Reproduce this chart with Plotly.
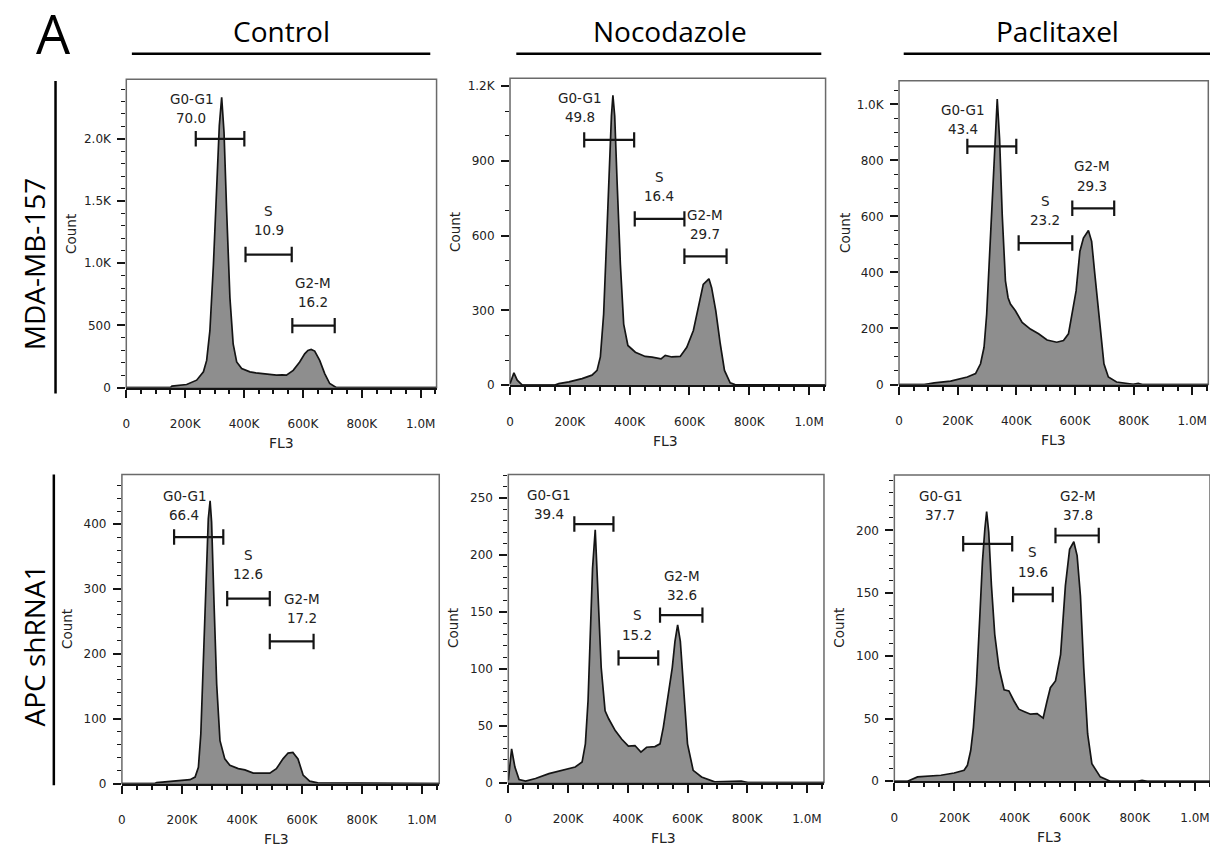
import plotly.graph_objects as go

W, H = 1210, 855

# ---------------- data: FL3 (in thousands) and Count ----------------
mda_control_fl3 = [0, 150, 155, 205, 239, 262, 273, 284, 296, 307, 316, 324, 332, 341, 352, 363, 375, 392,
                   420, 440, 465, 490, 510, 530, 544, 567, 589, 606, 617, 628, 640, 657, 674, 691, 713, 1054]
mda_control_count = [0, 0, 11, 24, 59, 126, 218, 457, 989, 1654, 2106, 2333, 2053, 1414, 723, 351, 205, 152,
                     126, 118, 112, 104, 99, 101, 99, 138, 205, 271, 298, 306, 293, 218, 112, 32, 0, 0]

mda_noco_fl3 = [0, 13, 24, 41, 150, 163, 197, 241, 274, 291, 302, 313, 324, 332, 339, 344, 350, 358, 369, 380,
                394, 419, 452, 475, 491, 505, 519, 541, 569, 591, 613, 630, 646, 658, 665, 674, 688, 703, 717,
                736, 752, 1055]
mda_noco_count = [6, 49, 20, 0, 0, 6, 13, 26, 40, 59, 113, 285, 616, 882, 1080, 1163, 1080, 815, 484, 245,
                  159, 132, 115, 112, 108, 105, 119, 113, 115, 152, 219, 311, 404, 418, 427, 391, 298, 165, 59,
                  9, 2, 0]

mda_pac_fl3 = [0, 86, 120, 176, 233, 261, 278, 290, 299, 307, 318, 327, 335, 343, 352, 363, 372, 380, 397, 420,
               448, 476, 505, 538, 561, 578, 589, 604, 617, 629, 646, 657, 668, 686, 699, 714, 742, 799, 816,
               830, 1055]
mda_pac_count = [0, 0, 6, 12, 27, 39, 74, 133, 251, 429, 665, 877, 1019, 877, 606, 370, 310, 287, 263, 222,
                 198, 181, 159, 151, 157, 181, 240, 334, 476, 523, 550, 511, 393, 193, 74, 27, 9, 1, 4,
                 0, 0]

apc_control_fl3 = [0, 110, 116, 172, 227, 244, 255, 263, 271, 280, 288, 294, 299, 307, 316, 327, 343, 360, 388,
                   410, 438, 471, 493, 515, 537, 554, 570, 587, 604, 626, 653, 1058]
apc_control_count = [0, 0, 1.5, 3.6, 6, 10, 25, 76, 178, 306, 408, 436, 403, 280, 153, 66, 38, 28, 23,
                     21, 16, 16, 16, 23, 38, 47, 48, 38, 13, 3.6, 1, 0]

apc_noco_fl3 = [0, 11, 22, 36, 58, 91, 136, 180, 224, 247, 258, 267, 274, 282, 291, 300, 311, 324, 336, 358,
                380, 402, 424, 444, 463, 491, 508, 519, 536, 549, 558, 567, 576, 586, 600, 619, 647, 691, 747,
                780, 802, 1057]
apc_noco_count = [2, 29.6, 13.6, 2.6, 1.2, 3.5, 7.8, 10.7, 13.6, 18, 34, 72, 130, 188, 222, 173, 101, 63, 56, 45.6,
                  38, 32, 32.5, 26.7, 31, 31.6, 34, 48.5, 77.5, 101, 124, 138.5, 124, 86, 34, 10.7, 4.9, 0.6, 1.2,
                  1.2, 0, 0]

apc_pac_fl3 = [0, 44, 77, 111, 155, 199, 232, 243, 254, 263, 273, 284, 293, 301, 307, 314, 323, 334, 348, 365,
               381, 398, 414, 431, 453, 475, 495, 508, 519, 536, 553, 569, 583, 597, 608, 619, 630, 643, 657,
               685, 718, 807, 824, 841, 1050]
apc_pac_count = [0, 0, 3.5, 4.2, 4.8, 6.6, 8.7, 12.7, 24.5, 43, 77, 130, 175, 201, 215, 198.6, 156, 117, 90.5, 73,
                 72, 64, 57.5, 55.7, 53.5, 54, 50.4, 64, 74.6, 80, 101, 156, 185, 191, 180, 148, 90.5, 37.7, 14,
                 3.5, 0, 0, 0.8, 0, 0]

# ---------------- gates (G0-G1, S, G2-M) ----------------
gate_names = ["G0-G1", "S", "G2-M"]

mda_control_gate_start = [236, 405, 564]
mda_control_gate_end = [401, 562, 708]
mda_control_gate_level = [2000, 1069, 498]
mda_control_pct = ["70.0", "10.9", "16.2"]
mda_control_label_x = [220, 484, 634]
mda_control_label_y = [2242, 1342, 766]

mda_noco_gate_start = [248, 417, 583]
mda_noco_gate_end = [415, 583, 724]
mda_noco_gate_level = [984, 667, 517]
mda_noco_pct = ["49.8", "16.4", "29.7"]
mda_noco_label_x = [233, 499, 652]
mda_noco_label_y = [1113, 797, 645]

mda_pac_gate_start = [233, 408, 591]
mda_pac_gate_end = [400, 591, 734]
mda_pac_gate_level = [850, 505, 629]
mda_pac_pct = ["43.4", "23.2", "29.3"]
mda_pac_label_x = [218, 499, 659]
mda_pac_label_y = [945, 622, 745]

apc_control_gate_start = [174, 351, 493]
apc_control_gate_end = [338, 493, 639]
apc_control_gate_level = [380, 285, 219]
apc_control_pct = ["66.4", "12.6", "17.2"]
apc_control_label_x = [208, 421, 600]
apc_control_label_y = [429, 338, 270]

apc_noco_gate_start = [221, 369, 508]
apc_noco_gate_end = [352, 502, 650]
apc_noco_gate_level = [227, 109.5, 147]
apc_noco_pct = ["39.4", "15.2", "32.6"]
apc_noco_label_x = [136, 432, 580]
apc_noco_label_y = [244, 138.5, 173]

apc_pac_gate_start = [229, 395, 536]
apc_pac_gate_end = [392, 527, 680]
apc_pac_gate_level = [189.4, 149, 196]
apc_pac_pct = ["37.7", "19.6", "37.8"]
apc_pac_label_x = [152, 461, 611]
apc_pac_label_y = [220, 175, 220]

# ---------------- labels ----------------
treatments = ["Control", "Nocodazole", "Paclitaxel"]
cell_lines = ["MDA-MB-157", "APC shRNA1"]
x_tickvals = [0, 200, 400, 600, 800, 1000]
x_ticktext = ["0", "200K", "400K", "600K", "800K", "1.0M"]

y_tickvals = [
    [0, 500, 1000, 1500, 2000],
    [0, 300, 600, 900, 1200],
    [0, 200, 400, 600, 800, 1000],
    [0, 100, 200, 300, 400],
    [0, 50, 100, 150, 200, 250],
    [0, 50, 100, 150, 200],
]
y_ticktext = [
    ["0", "500", "1.0K", "1.5K", "2.0K"],
    ["0", "300", "600", "900", "1.2K"],
    ["0", "200", "400", "600", "800", "1.0K"],
    ["0", "100", "200", "300", "400"],
    ["0", "50", "100", "150", "200", "250"],
    ["0", "50", "100", "150", "200"],
]

# ---------------- layout (pixel boxes: left, right, top, zero-line) ----------------
panels = [
    dict(fl3=mda_control_fl3, cnt=mda_control_count, gs=mda_control_gate_start, ge=mda_control_gate_end,
         gy=mda_control_gate_level, pct=mda_control_pct, lx=mda_control_label_x, ly=mda_control_label_y,
         box=(122.7, 434.0, 80.0, 390.7), xmax=1054, ymax=2478, yminor=100),
    dict(fl3=mda_noco_fl3, cnt=mda_noco_count, gs=mda_noco_gate_start, ge=mda_noco_gate_end,
         gy=mda_noco_gate_level, pct=mda_noco_pct, lx=mda_noco_label_x, ly=mda_noco_label_y,
         box=(507.7, 824.3, 79.0, 388.3), xmax=1055, ymax=1231, yminor=100),
    dict(fl3=mda_pac_fl3, cnt=mda_pac_count, gs=mda_pac_gate_start, ge=mda_pac_gate_end,
         gy=mda_pac_gate_level, pct=mda_pac_pct, lx=mda_pac_label_x, ly=mda_pac_label_y,
         box=(898.0, 1208.3, 81.5, 387.7), xmax=1055, ymax=1084, yminor=50),
    dict(fl3=apc_control_fl3, cnt=apc_control_count, gs=apc_control_gate_start, ge=apc_control_gate_end,
         gy=apc_control_gate_level, pct=apc_control_pct, lx=apc_control_label_x, ly=apc_control_label_y,
         box=(118.3, 436.7, 478.3, 790.0), xmax=1058, ymax=476.6, yminor=20),
    dict(fl3=apc_noco_fl3, cnt=apc_noco_count, gs=apc_noco_gate_start, ge=apc_noco_gate_end,
         gy=apc_noco_gate_level, pct=apc_noco_pct, lx=apc_noco_label_x, ly=apc_noco_label_y,
         box=(506.0, 822.7, 478.3, 789.0), xmax=1057, ymax=270.6, yminor=10),
    dict(fl3=apc_pac_fl3, cnt=apc_pac_count, gs=apc_pac_gate_start, ge=apc_pac_gate_end,
         gy=apc_pac_gate_level, pct=apc_pac_pct, lx=apc_pac_label_x, ly=apc_pac_label_y,
         box=(893.3, 1210.0, 479.0, 787.7), xmax=1050, ymax=244.2, yminor=10),
]


def px(x):
    return x / W


def py(y):
    return 1 - y / H


SMALL_FONT = "DejaVu Sans, Arial, sans-serif"
BIG_FONT = "Open Sans, Noto Sans, sans-serif"
INK = "#141414"
TXT = "#222222"

fig = go.Figure()
annotations = []
shapes = []
layout_axes = {}

for i, p in enumerate(panels, start=1):
    sfx = "" if i == 1 else str(i)
    xa, ya = "x" + sfx, "y" + sfx
    L, R, T, B = p["box"]

    fig.add_trace(go.Scatter(
        x=p["fl3"], y=p["cnt"], mode="lines", fill="tozeroy",
        fillcolor="#8e8e8e", line=dict(color=INK, width=1.7),
        xaxis=xa, yaxis=ya, showlegend=False, hoverinfo="skip"))

    for k in range(3):
        fig.add_trace(go.Scatter(
            x=[p["gs"][k], p["ge"][k]], y=[p["gy"][k], p["gy"][k]],
            mode="lines+markers",
            line=dict(color=INK, width=2.2),
            marker=dict(symbol="line-ns", size=11, line=dict(color=INK, width=2.2)),
            xaxis=xa, yaxis=ya, showlegend=False, hoverinfo="skip"))
        annotations.append(dict(
            x=p["lx"][k], y=p["ly"][k], xref=xa, yref=ya, text=gate_names[k],
            showarrow=False, xanchor="center", yanchor="middle", yshift=9.7,
            font=dict(family=SMALL_FONT, size=13.5, color=TXT)))
        annotations.append(dict(
            x=p["lx"][k], y=p["ly"][k], xref=xa, yref=ya, text=p["pct"][k],
            showarrow=False, xanchor="center", yanchor="middle", yshift=-9.7,
            font=dict(family=SMALL_FONT, size=13.5, color=TXT)))

    layout_axes["xaxis" + sfx] = dict(
        domain=[px(L), px(R)], range=[0, p["xmax"]], anchor=ya,
        tickvals=x_tickvals, ticktext=x_ticktext,
        ticks="outside", ticklen=8, tickwidth=2, tickcolor=INK,
        showline=True, linecolor=INK, linewidth=2,
        showgrid=False, zeroline=False, ticklabelstandoff=16,
        ticklabeloverflow="allow",
        tickfont=dict(family=SMALL_FONT, size=12, color=TXT),
        minor=dict(dtick=50, tick0=0, ticks="outside", ticklen=4, tickwidth=1.5, tickcolor=INK),
    )
    layout_axes["yaxis" + sfx] = dict(
        domain=[py(B), py(T)], range=[0, p["ymax"]], anchor=xa,
        tickvals=y_tickvals[i - 1], ticktext=y_ticktext[i - 1],
        ticks="outside", ticklen=8, tickwidth=1.5, tickcolor=INK,
        showline=False, showgrid=False, zeroline=False, ticklabelstandoff=4,
        ticklabeloverflow="allow",
        tickfont=dict(family=SMALL_FONT, size=12, color=TXT),
        minor=dict(dtick=p["yminor"], tick0=0, ticks="outside", ticklen=4, tickwidth=1.3, tickcolor=INK),
    )

    # grey frame
    shapes.append(dict(type="rect", xref=xa + " domain", yref=ya + " domain",
                       x0=0, x1=1, y0=0, y1=1, layer="below",
                       line=dict(color="#6a6a6a", width=1.5)))

    # axis titles
    annotations.append(dict(x=px(L - 55), y=py((T + B) / 2), xref="paper", yref="paper",
                            text="Count", textangle=-90, showarrow=False,
                            xanchor="center", yanchor="middle",
                            font=dict(family=SMALL_FONT, size=13.5, color=TXT)))
    annotations.append(dict(x=px((L + min(R, L + 311)) / 2), y=py(B + 56), xref="paper", yref="paper",
                            text="FL3", showarrow=False, xanchor="center", yanchor="middle",
                            font=dict(family=SMALL_FONT, size=14, color=TXT)))

# column headers
header_centers = [278, 668.7, 1057]
header_lines = [(128.3, 427.7), (514, 820), (902.7, 1210)]
for name, cx, (x0, x1) in zip(treatments, header_centers, header_lines):
    annotations.append(dict(x=px(cx), y=py(31.5), xref="paper", yref="paper", text=name,
                            showarrow=False, xanchor="center", yanchor="middle",
                            font=dict(family=BIG_FONT, size=28, color="black")))
    shapes.append(dict(type="line", xref="paper", yref="paper", x0=px(x0), x1=px(x1),
                       y0=py(54.3), y1=py(54.3), line=dict(color="black", width=2.5)))

# row headers
row_centers = [265.5, 651]
row_lines = [(51.7, 81.7, 396.7), (50.0, 478.3, 791.7)]
for name, cy, (lx, y0, y1) in zip(cell_lines, row_centers, row_lines):
    annotations.append(dict(x=px(30), y=py(cy), xref="paper", yref="paper", text=name,
                            textangle=-90, showarrow=False, xanchor="center", yanchor="middle",
                            font=dict(family=BIG_FONT, size=28, color="black")))
    shapes.append(dict(type="line", xref="paper", yref="paper", x0=px(lx), x1=px(lx),
                       y0=py(y0), y1=py(y1), line=dict(color="black", width=2.5)))

# panel letter
annotations.append(dict(x=px(50), y=py(33), xref="paper", yref="paper", text="A",
                        showarrow=False, xanchor="center", yanchor="middle",
                        font=dict(family=BIG_FONT, size=54, color="black")))

fig.update_layout(
    width=W, height=H,
    margin=dict(l=0, r=0, t=0, b=0),
    paper_bgcolor="white", plot_bgcolor="white",
    annotations=annotations, shapes=shapes,
    **layout_axes,
)

fig.write_html(
    "out.html",
    config={"displayModeBar": False},
    post_script=(
        "var d=document.documentElement, b=document.body;"
        "d.style.margin='0';d.style.padding='0';d.style.overflow='hidden';d.style.height='855px';"
        "b.style.margin='0';b.style.padding='0';b.style.overflow='hidden';b.style.height='855px';"
    ),
)
